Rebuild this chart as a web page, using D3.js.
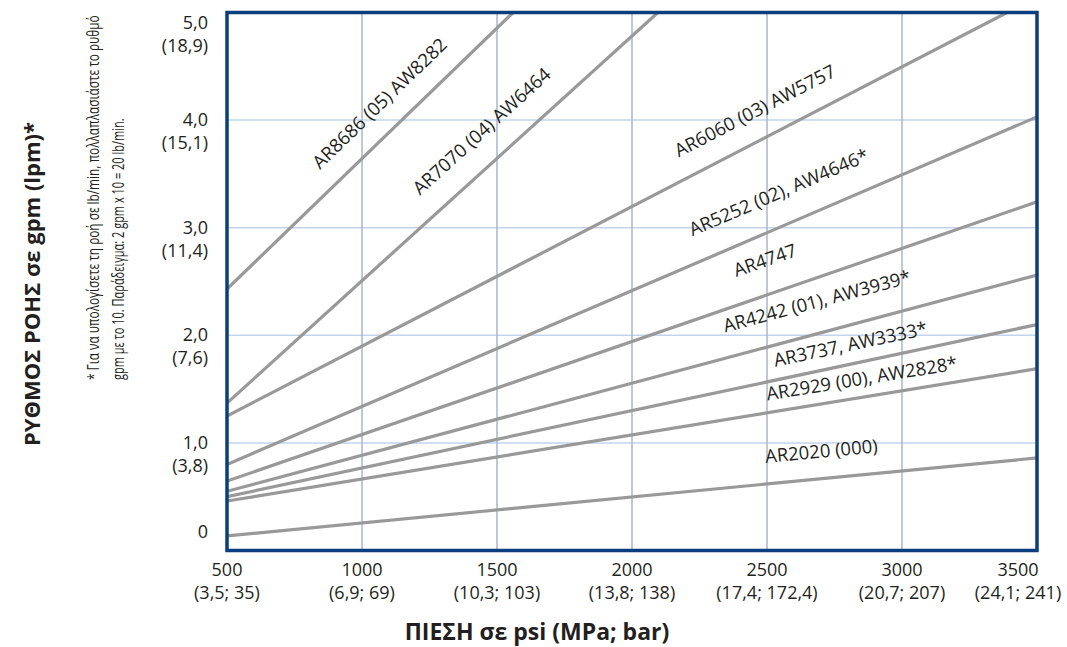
<!DOCTYPE html>
<html>
<head>
<meta charset="utf-8">
<script src="https://cdn.jsdelivr.net/npm/d3@7"></script>
<style>
  body { margin: 0; background: #fff; }
  text { font-family: "Open Sans", "Noto Sans", sans-serif; fill: #231f20; }
</style>
</head>
<body>
<svg id="chart" width="1067" height="647"></svg>
<script>
// nozzle models, flow in gpm at 500 psi and at the last visible point
const models = ["AR8686 (05) AW8282", "AR7070 (04) AW6464", "AR6060 (03) AW5757",
                "AR5252 (02), AW4646*", "AR4747", "AR4242 (01), AW3939*",
                "AR3737, AW3333*", "AR2929 (00), AW2828*", "AR2020 (000)"];
const flowAt500 = [2.43, 1.37, 1.25, 0.80, 0.645, 0.55, 0.50, 0.46, 0.135];
const endPsi    = [1560, 2096, 3389, 3500, 3500, 3500, 3500, 3500, 3500];
const endFlow   = [5.0, 5.0, 5.0, 4.03, 3.24, 2.56, 2.10, 1.69, 0.86];
// where each label sits along its line (psi)
const labelPsi  = [1136, 1519, 2504, 2591, 2533, 2715, 2824, 2862, 2711];
const labelGap  = [21, 24, 22, 26, 27, 25, 13, 12, 21];

const xTicks = [500, 1000, 1500, 2000, 2500, 3000, 3500];
const xTickSub = ["(3,5; 35)", "(6,9; 69)", "(10,3; 103)", "(13,8; 138)",
                  "(17,4; 172,4)", "(20,7; 207)", "(24,1; 241)"];
const yTicks = [0, 1, 2, 3, 4, 5];
const yTickSub = ["", "(3,8)", "(7,6)", "(11,4)", "(15,1)", "(18,9)"];

const xTitle = "ΠΙΕΣΗ σε psi (MPa; bar)";
const yTitle = "ΡΥΘΜΟΣ ΡΟΗΣ σε gpm (lpm)*";
const note1 = "* Για να υπολογίσετε τη ροή σε lb/min, πολλαπλασιάστε το ρυθμό";
const note2 = "gpm με το 10. Παράδειγμα: 2 gpm x 10 = 20 lb/min.";

const svg = d3.select("svg#chart");
const plotL = 227, plotR = 1037, plotT = 12.5, plotB = 550.5;

const x = d3.scaleLinear().domain([500, 3500]).range([plotL, plotR]);
const y = d3.scaleLinear().domain([0, 5]).range([plotB, plotT]);

// squeeze a text horizontally (in its own frame) so it is no wider than w
function fitWidth(sel, w) {
  sel.each(function() {
    const len = this.getComputedTextLength();
    if (len > w) {
      const t = d3.select(this).attr("transform") || "";
      d3.select(this).attr("transform", t + " scale(" + (w / len) + ",1)");
    }
  });
}

svg.append("defs").append("clipPath").attr("id", "plotclip")
  .append("rect").attr("x", plotL).attr("y", plotT)
  .attr("width", plotR - plotL).attr("height", plotB - plotT);

// grid
svg.append("g").selectAll("line")
  .data(yTicks.filter(d => d > 0 && d < 5))
  .enter().append("line")
    .attr("x1", plotL).attr("x2", plotR)
    .attr("y1", d => y(d)).attr("y2", d => y(d))
    .attr("stroke", "#c3d3ec").attr("stroke-width", 1.5);

svg.append("g").selectAll("line")
  .data(xTicks.filter(d => d > 500 && d < 3500))
  .enter().append("line")
    .attr("y1", plotT).attr("y2", plotB)
    .attr("x1", d => x(d)).attr("x2", d => x(d))
    .attr("stroke", "#a9b6cc").attr("stroke-width", 1.5);

// flow lines
const series = models.map(function(m, i) {
  return { name: m, pts: [[500, flowAt500[i]], [endPsi[i], endFlow[i]]],
           at: labelPsi[i], gap: labelGap[i] };
});

const line = d3.line().x(d => x(d[0])).y(d => y(d[1]));

svg.append("g").attr("clip-path", "url(#plotclip)")
  .selectAll("path").data(series)
  .enter().append("path")
    .attr("d", d => line(d.pts))
    .attr("fill", "none")
    .attr("stroke", "#999999")
    .attr("stroke-width", 3.2);

// line labels, rotated along each line
svg.append("g").selectAll("text").data(series)
  .enter().append("text")
    .attr("transform", function(d) {
      const p0 = d.pts[0], p1 = d.pts[1];
      const slope = (p1[1] - p0[1]) / (p1[0] - p0[0]);
      const v = p0[1] + slope * (d.at - p0[0]);
      const ang = Math.atan2(y(p1[1]) - y(p0[1]), x(p1[0]) - x(p0[0])) * 180 / Math.PI;
      return "translate(" + x(d.at) + "," + y(v) + ") rotate(" + ang + ")";
    })
    .attr("y", d => -d.gap)
    .attr("text-anchor", "middle")
    .style("font-size", "18.5px")
    .text(d => d.name);

// frame
svg.append("rect")
  .attr("x", plotL).attr("y", plotT)
  .attr("width", plotR - plotL).attr("height", plotB - plotT)
  .attr("fill", "none").attr("stroke", "#0b3e7e").attr("stroke-width", 3.5);

// y tick labels
const fmt = d => d === 0 ? "0" : d.toFixed(1).replace(".", ",");
const yl = svg.append("g").selectAll("text").data(yTicks)
  .enter().append("text")
    .attr("text-anchor", "end")
    .style("font-size", "18px")
    .attr("x", 208)
    .attr("y", d => Math.min(Math.max(y(d) + 6, 29), 538));
yl.append("tspan").text(d => fmt(d));
yl.append("tspan").attr("x", 208).attr("dy", 23).text((d, i) => yTickSub[i]);

// x tick labels
const xl = svg.append("g").selectAll("text").data(xTicks)
  .enter().append("text")
    .attr("text-anchor", "middle")
    .style("font-size", "18px")
    .attr("y", 576);
xl.append("tspan").attr("x", d => Math.min(x(d), 1018)).text(d => d);
xl.append("tspan").attr("x", d => Math.min(x(d), 1018)).attr("dy", 23)
  .text((d, i) => xTickSub[i]);

// axis titles
svg.append("text")
  .attr("transform", "translate(537,640)")
  .attr("text-anchor", "middle")
  .style("font-size", "23px").style("font-weight", "bold")
  .text(xTitle)
  .call(fitWidth, 272);

svg.append("text")
  .attr("transform", "translate(40,284) rotate(-90)")
  .attr("text-anchor", "middle")
  .style("font-size", "22px").style("font-weight", "bold")
  .text(yTitle)
  .call(fitWidth, 330);

// footnote
svg.append("text")
  .attr("transform", "translate(99,380) rotate(-90)")
  .style("font-size", "17px")
  .text(note1)
  .call(fitWidth, 365);

svg.append("text")
  .attr("transform", "translate(124,380) rotate(-90)")
  .style("font-size", "17px")
  .text(note2)
  .call(fitWidth, 262);
</script>
</body>
</html>
